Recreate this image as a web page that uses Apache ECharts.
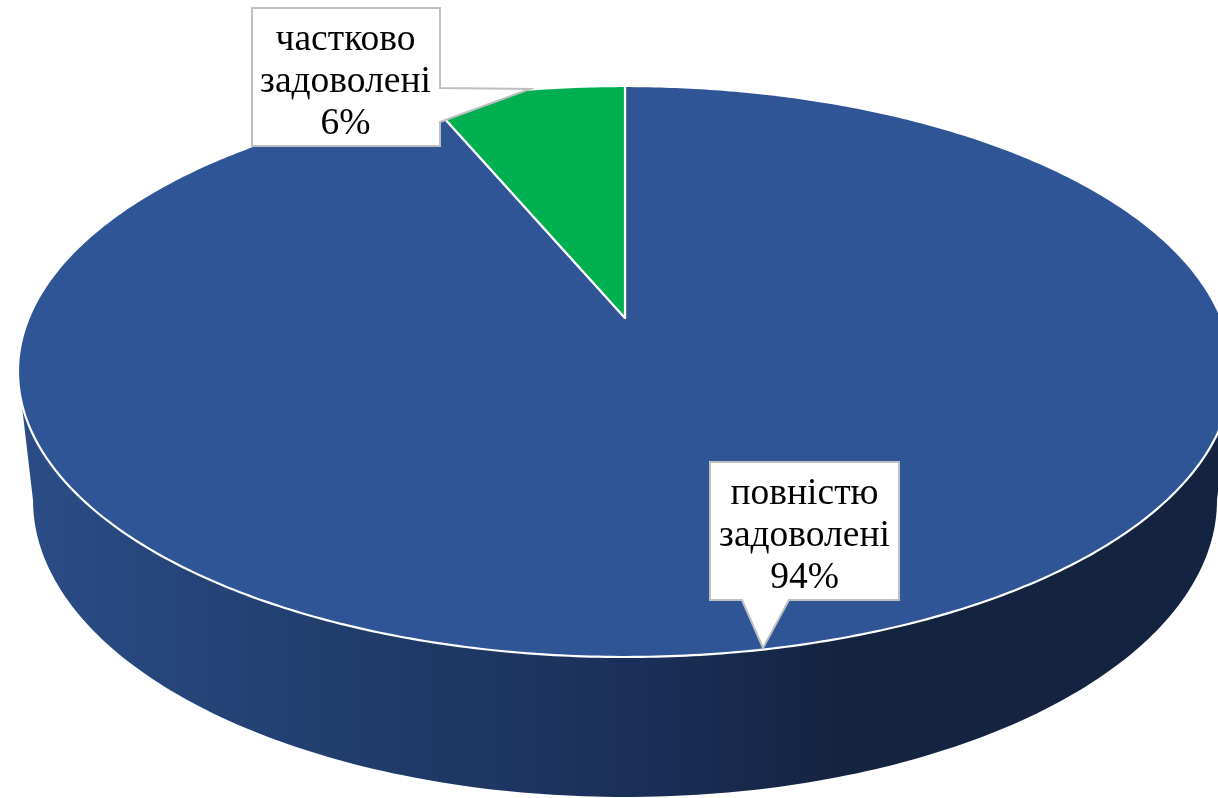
<!DOCTYPE html>
<html>
<head>
<meta charset="utf-8">
<style>html,body{margin:0;padding:0;background:#fff}#c{width:1218px;height:798px}</style>
<script src="https://cdn.jsdelivr.net/npm/echarts@6/dist/echarts.min.js"></script>
</head>
<body>
<div id="c"></div>
<script>
// --- data (clockwise from 12 o'clock)
const categories = ['повністю\nзадоволені', 'частково\nзадоволені'];
const sliceValues = [93.7, 6.3];
const sliceColors = ['#2F5597', '#00B050'];

// --- projection of the pie disc into the picture (perspective)
const apex = { x: 625, y: 318 };
const topY = 86, bottomY = 657, halfWidth = 607;
const base = { cx: 625, cy: 500, rx: 592, ry: 297 };
const wallTop = 402;

// --- callouts: box and pointer, in pixels
const callouts = [
  { outline: [[710,462],[899,462],[899,600],[789,600],[763,648],[742,600],[710,600]], textX: 804.5, textY: 536.5 },
  { outline: [[252,8],[440,8],[440,88],[530,89],[440,122],[440,146],[252,146]], textX: 345.5, textY: 82 }
];

const ratio = (bottomY - apex.y) / (apex.y - topY);
const k = (ratio - 1) / (ratio + 1);
const B = (apex.y - topY) * (1 + k);
const A = halfWidth * Math.sqrt(1 - k * k);
function project(theta) {
  const u = Math.sin(theta), v = -Math.cos(theta), w = 1 - k * v;
  return [apex.x + A * u / w, apex.y + B * v / w];
}
const total = sliceValues.reduce((a, b) => a + b, 0);

function renderSlice(params, api) {
  const i = params.dataIndex;
  let before = 0;
  for (let j = 0; j < i; j++) before += sliceValues[j];
  const start = before / total * 2 * Math.PI;
  const sweep = api.value(0) / total * 2 * Math.PI;
  const steps = Math.max(8, Math.ceil(sweep / 0.01));
  const pts = [[apex.x, apex.y]];
  for (let s = 0; s <= steps; s++) pts.push(project(start + sweep * s / steps));
  const c = callouts[i];
  const pct = Math.round(api.value(0) / total * 100) + '%';
  return {
    type: 'group',
    children: [
      { type: 'polygon', z2: 2, shape: { points: pts },
        style: { fill: sliceColors[i], stroke: '#fff', lineWidth: 2.2, lineJoin: 'round' } },
      { type: 'polygon', z2: 10, shape: { points: c.outline },
        style: { fill: '#fff', stroke: '#BFBFBF', lineWidth: 2 } },
      { type: 'text', z2: 11, x: c.textX, y: c.textY,
        style: { text: categories[i] + '\n' + pct, fill: '#000', align: 'center', verticalAlign: 'middle',
                 font: '37.5px "Liberation Serif"', lineHeight: 42 } }
    ]
  };
}

function renderWall() {
  const pts = [];
  const tanL = apex.x - Math.sqrt(1 - Math.pow((wallTop - (topY + bottomY) / 2) / ((bottomY - topY) / 2), 2)) * halfWidth;
  const tanR = 2 * apex.x - tanL;
  pts.push([tanL, wallTop]);
  for (let s = 0; s <= 180; s++) {
    const a = Math.PI - s / 180 * Math.PI;
    pts.push([base.cx + base.rx * Math.cos(a), base.cy + base.ry * Math.sin(a)]);
  }
  pts.push([tanR, wallTop]);
  return {
    type: 'polygon', z2: 1, shape: { points: pts },
    style: {
      fill: new echarts.graphic.LinearGradient(0, 0, 1, 0, [
        { offset: 0, color: '#2B4C86' },
        { offset: 0.32, color: '#1F3A68' },
        { offset: 0.52, color: '#1A2F58' },
        { offset: 0.68, color: '#14233F' },
        { offset: 1, color: '#14233F' }
      ])
    }
  };
}

const chart = echarts.init(document.getElementById('c'), null, { renderer: 'canvas' });
chart.setOption({
  animation: false,
  backgroundColor: '#fff',
  series: [
    { type: 'custom', name: 'wall', coordinateSystem: 'none', silent: true, z: 1,
      data: [[total]], renderItem: renderWall },
    { type: 'custom', name: 'slices', coordinateSystem: 'none', silent: true, z: 2,
      data: sliceValues.map((v, i) => ({ name: categories[i], value: [v] })), renderItem: renderSlice }
  ]
});
</script>
</body>
</html>
